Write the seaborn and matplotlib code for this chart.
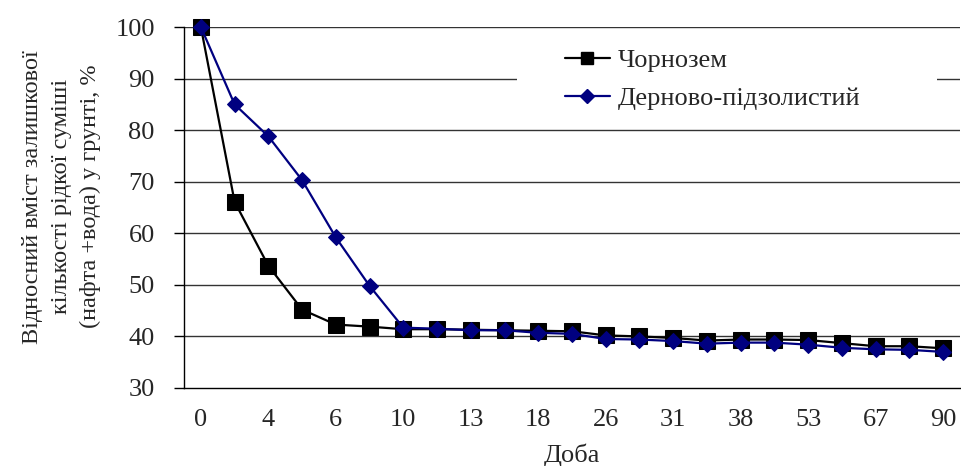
import numpy as np
import pandas as pd
import matplotlib
matplotlib.use("Agg")
import matplotlib.pyplot as plt
from matplotlib.patches import Rectangle
from matplotlib.lines import Line2D
import seaborn as sns

# ---- data ----
series_names = ["Чорнозем", "Дерново-підзолистий"]
chornozem = [100, 66.1, 53.7, 45.2, 42.3, 41.9, 41.4, 41.4, 41.3, 41.2, 41.1, 41.0,
             40.2, 40.0, 39.7, 39.2, 39.4, 39.4, 39.3, 38.7, 38.1, 38.1, 37.7]
dernovo = [100, 85.0, 78.8, 70.3, 59.2, 49.8, 41.7, 41.5, 41.2, 41.2, 40.7, 40.5,
           39.5, 39.4, 39.1, 38.6, 38.8, 38.8, 38.4, 37.8, 37.5, 37.4, 37.0]
tick_labels = ["0", "4", "6", "10", "13", "18", "26", "31", "38", "53", "67", "90"]
y_ticks = [30, 40, 50, 60, 70, 80, 90, 100]

n = len(chornozem)
idx = np.arange(n)
df = pd.DataFrame({
    "pos": np.concatenate([idx, idx]),
    "value": chornozem + dernovo,
    "series": [series_names[0]] * n + [series_names[1]] * n,
})

sns.set_style("white")
plt.rcParams["font.family"] = ["Liberation Serif", "DejaVu Serif"]

fig = plt.figure(figsize=(9.62, 4.66), dpi=100)
ax = fig.add_axes([184 / 962, 1 - 388 / 466, 776 / 962, 361 / 466])

palette = {series_names[0]: "#000000", series_names[1]: "#000080"}
markers = {series_names[0]: "s", series_names[1]: "D"}
for name in series_names:
    sub = df[df["series"] == name]
    sns.lineplot(data=sub, x="pos", y="value", ax=ax, color=palette[name],
                 marker=markers[name], markersize=11 if name == series_names[0] else 8,
                 markeredgecolor=palette[name], linewidth=1.6, clip_on=False,
                 zorder=4 if name == series_names[1] else 3, legend=False)

ax.set_xlim(-0.5, n - 0.5)
ax.set_ylim(30, 100)
ax.set_yticks(y_ticks)
ax.set_yticklabels([str(v) for v in y_ticks])
ax.set_xticks(idx[::2])
ax.set_xticklabels(tick_labels)
ax.set_xticks(np.arange(-0.5, n, 1.0), minor=True)
ax.tick_params(axis="x", which="major", length=0, pad=15, labelsize=19)
ax.tick_params(axis="x", which="minor", length=8, width=1, direction="out", color="black")
ax.tick_params(axis="y", which="major", length=7, width=1, direction="out", pad=14,
               labelsize=19, color="black", left=True)

for v in y_ticks[1:]:
    ax.axhline(v, color="#333333", linewidth=1.0, zorder=1)

for s in ["top", "right"]:
    ax.spines[s].set_visible(False)
for s in ["left", "bottom"]:
    ax.spines[s].set_color("black")
    ax.spines[s].set_linewidth(1.0)

# legend background (white gap in gridlines)
ax.add_patch(Rectangle((333 / 776, (388 - 118) / 361), (937 - 517) / 776, 78 / 361,
                       transform=ax.transAxes, facecolor="white", edgecolor="none", zorder=2))
handles = [Line2D([0], [0], color=palette[nm], marker=markers[nm],
                  markersize=9 if nm == series_names[0] else 7, linewidth=1.6)
           for nm in series_names]
leg = ax.legend(handles, series_names, loc="upper left",
                bbox_to_anchor=((565 - 184) / 776, (388 - 49) / 361),
                frameon=False, fontsize=19, handlelength=1.7, handletextpad=0.3,
                labelspacing=0.55, borderpad=0, borderaxespad=0)
leg.set_zorder(5)

ax.set_xlabel("Доба", fontsize=19, labelpad=9)
ax.set_ylabel("Відносний вміст залишкової\nкількості рідкої суміші\n(нафта +вода) у грунті, %",
              fontsize=17.5, linespacing=1.5)
ax.yaxis.set_label_coords(-(184 - 101) / 776, 0.53)

fig.savefig("out.png", dpi=100)
